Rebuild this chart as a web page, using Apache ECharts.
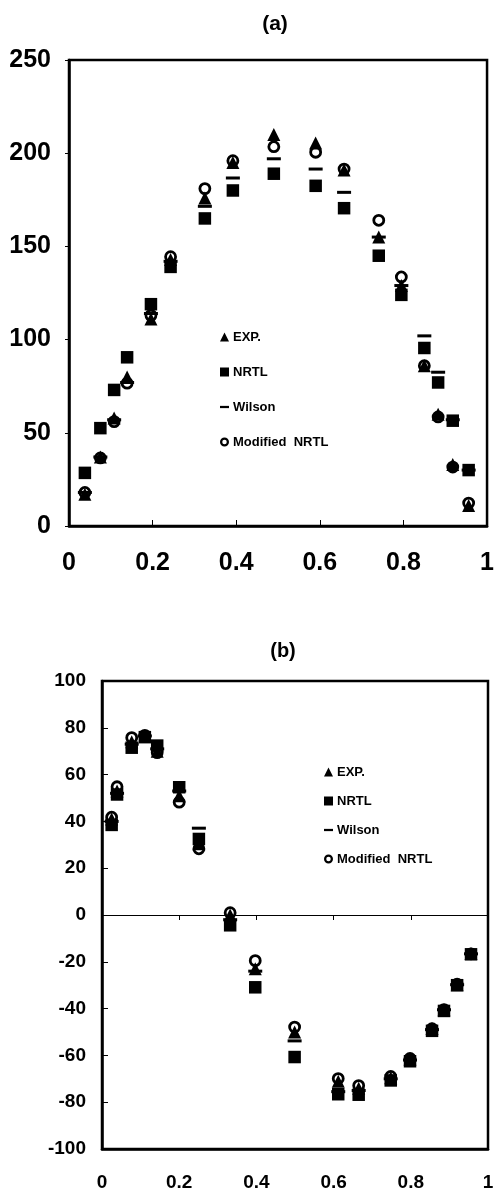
<!DOCTYPE html>
<html><head><meta charset="utf-8">
<script src="https://cdn.jsdelivr.net/npm/echarts@6/dist/echarts.min.js"></script>
<style>html,body{margin:0;padding:0;background:#fff}#c{width:497px;height:1192px}</style>
</head><body><div id="c"></div>
<script>
// ---- Panel (a) ----
const xA      = [0.038, 0.075, 0.108, 0.139, 0.196, 0.243, 0.325, 0.392, 0.49, 0.59, 0.658, 0.741, 0.795, 0.85, 0.883, 0.918, 0.956];
const expA    = [17, 37, 58, 80, 111, 143, 176, 195, 210, 205.5, 191, 155, 129, 86, 60, 33, 11];
const nrtlA   = [28.5, 52.5, 73, 90.5, 119, 139, 165, 180, 189, 182.5, 170.5, 145, 124, 95.5, 77, 56.5, 30];
const wilsonA = [18, 37, 57, 77, 114, 142, 171.5, 186.7, 197, 191.5, 179, 155, 129, 102, 82.5, 57, 30];
const modA    = [18, 36.5, 56, 76.6, 113, 144.5, 181, 196, 203.5, 200.5, 191.5, 164, 133.6, 86, 58.5, 31.6, 12.3];
// ---- Panel (b) ----
const xB      = [0.025, 0.039, 0.077, 0.111, 0.143, 0.2, 0.251, 0.332, 0.397, 0.499, 0.612, 0.665, 0.748, 0.798, 0.855, 0.886, 0.92, 0.956];
const expB    = [41, 53, 74, 76.5, 70, 51, 30.5, 0, -23, -50, -71, -74, -69.5, -61.5, -48.5, -40.5, -29.8, -16.5];
const nrtlB   = [38.5, 51.5, 71.5, 76, 72.4, 54.6, 32.5, -4.4, -30.9, -60.7, -76.6, -76.8, -70.7, -62.5, -49.5, -41, -30, -16.8];
const wilsonB = [40, 52, 73, 76.5, 71, 53, 37.1, -2, -24, -53.8, -75.5, -75, -70, -62, -49, -40.5, -29.8, -16.6];
const modB    = [41.8, 54.8, 75.8, 76.8, 69.4, 48.2, 28.3, 1, -19.5, -47.9, -69.9, -72.9, -69, -61.3, -48.6, -40.4, -29.6, -16.6];
// ---- Labels ----
const seriesNames = ['EXP.', 'NRTL', 'Wilson', 'Modified  NRTL'];
const titles = ['(a)', '(b)'];

const FONT = '"Liberation Sans", Arial, Helvetica, sans-serif';
const pts = (xs, ys) => xs.map((x, i) => [x, ys[i]]);

const styles = {
  'EXP.':           {symbol: 'triangle', symbolSize: 13, itemStyle: {color: '#000', opacity: 1}, z: 5},
  'NRTL':           {symbol: 'rect', symbolSize: 12.5, itemStyle: {color: '#000', opacity: 1}, z: 3},
  'Wilson':         {symbol: 'rect', symbolSize: [14, 3], itemStyle: {color: '#000', opacity: 1}, z: 4},
  'Modified  NRTL': {symbol: 'circle', symbolSize: 10, itemStyle: {color: '#fff', borderColor: '#000', borderWidth: 2.8, opacity: 1}, z: 2}
};
function mk(name, xs, ys, xi, yi) {
  return Object.assign({name, type: 'scatter', xAxisIndex: xi, yAxisIndex: yi, data: pts(xs, ys), silent: true, animation: false}, styles[name]);
}
const ringIcon = 'path://M5,0A5,5,0,1,1,5,10A5,5,0,1,1,5,0ZM5,2.5A2.5,2.5,0,1,0,5,7.5A2.5,2.5,0,1,0,5,2.5Z';
function legendData() {
  return [
    {name: seriesNames[0], icon: 'triangle', itemStyle: {color: '#000', opacity: 1}},
    {name: seriesNames[1], icon: 'rect', itemStyle: {color: '#000', opacity: 1}},
    {name: seriesNames[2], icon: 'path://M0,0H12V3H0Z', itemStyle: {color: '#000', opacity: 1}},
    {name: seriesNames[3], icon: ringIcon, itemStyle: {color: '#000', borderWidth: 0, opacity: 1}}
  ];
}
const axisTxt = (size, margin) => ({fontSize: size, fontWeight: 'bold', color: '#000', fontFamily: FONT, margin});
const line = w => ({show: true, lineStyle: {color: '#000', width: w}});

const option = {
  animation: false,
  backgroundColor: '#fff',
  textStyle: {fontFamily: FONT},
  title: [
    {text: titles[0], left: 270, top: 9, textAlign: 'center', textStyle: {fontSize: 21, fontWeight: 'bold', color: '#000', fontFamily: FONT}},
    {text: titles[1], left: 278, top: 636, textAlign: 'center', textStyle: {fontSize: 20, fontWeight: 'bold', color: '#000', fontFamily: FONT}}
  ],
  legend: [
    {orient: 'vertical', left: 215, top: 325, itemWidth: 9, itemHeight: 9, itemGap: 21, selectedMode: false,
     textStyle: {fontSize: 13, fontWeight: 'bold', color: '#000', fontFamily: FONT, lineHeight: 14, padding: [0, 0, 0, -1]},
     data: legendData()},
    {orient: 'vertical', left: 319, top: 760, itemWidth: 9, itemHeight: 9, itemGap: 15, selectedMode: false,
     textStyle: {fontSize: 13, fontWeight: 'bold', color: '#000', fontFamily: FONT, lineHeight: 14, padding: [0, 0, 0, -1]},
     data: legendData()}
  ],
  grid: [
    {left: 69, top: 60, width: 424, height: 466, show: true, borderColor: '#000', borderWidth: 2.5, containLabel: false},
    {left: 102, top: 681, width: 386, height: 471, show: true, borderColor: '#000', borderWidth: 2.5, containLabel: false}
  ],
  xAxis: [
    {gridIndex: 0, type: 'value', min: 0, max: 1, interval: 0.2, position: 'bottom',
     axisLine: Object.assign(line(2.5), {onZero: false}),
     axisTick: {show: true, inside: true, length: 6, lineStyle: {color: '#000', width: 1}},
     axisLabel: axisTxt(25, 25), splitLine: {show: false}},
    {gridIndex: 1, type: 'value', min: 0, max: 1, interval: 0.2, position: 'bottom',
     axisLine: Object.assign(line(2.5), {onZero: false}),
     axisTick: {show: false},
     axisLabel: axisTxt(19, 24), splitLine: {show: false}},
    {gridIndex: 1, type: 'value', min: 0, max: 1, interval: 0.2, position: 'top',
     axisLine: {show: true, onZero: true, lineStyle: {color: '#000', width: 1}},
     axisTick: {show: true, inside: true, length: 5, lineStyle: {color: '#000', width: 1}},
     axisLabel: {show: false}, splitLine: {show: false}}
  ],
  yAxis: [
    {gridIndex: 0, type: 'value', min: 0, max: 250, interval: 50,
     axisLine: Object.assign(line(2.5), {onZero: false}),
     axisTick: {show: true, inside: false, length: 4, lineStyle: {color: '#000', width: 1}},
     axisLabel: axisTxt(25, 18), splitLine: {show: false}},
    {gridIndex: 1, type: 'value', min: -100, max: 100, interval: 20,
     axisLine: Object.assign(line(2.5), {onZero: false}),
     axisTick: {show: true, inside: true, length: 6, lineStyle: {color: '#000', width: 1}},
     axisLabel: axisTxt(19, 16), splitLine: {show: false}}
  ],
  series: [
    mk(seriesNames[0], xA, expA, 0, 0),
    mk(seriesNames[1], xA, nrtlA, 0, 0),
    mk(seriesNames[2], xA, wilsonA, 0, 0),
    mk(seriesNames[3], xA, modA, 0, 0),
    mk(seriesNames[0], xB, expB, 1, 1),
    mk(seriesNames[1], xB, nrtlB, 1, 1),
    mk(seriesNames[2], xB, wilsonB, 1, 1),
    mk(seriesNames[3], xB, modB, 1, 1)
  ]
};
const chart = echarts.init(document.getElementById('c'), null, {renderer: 'canvas'});
chart.setOption(option);
</script>
</body></html>
